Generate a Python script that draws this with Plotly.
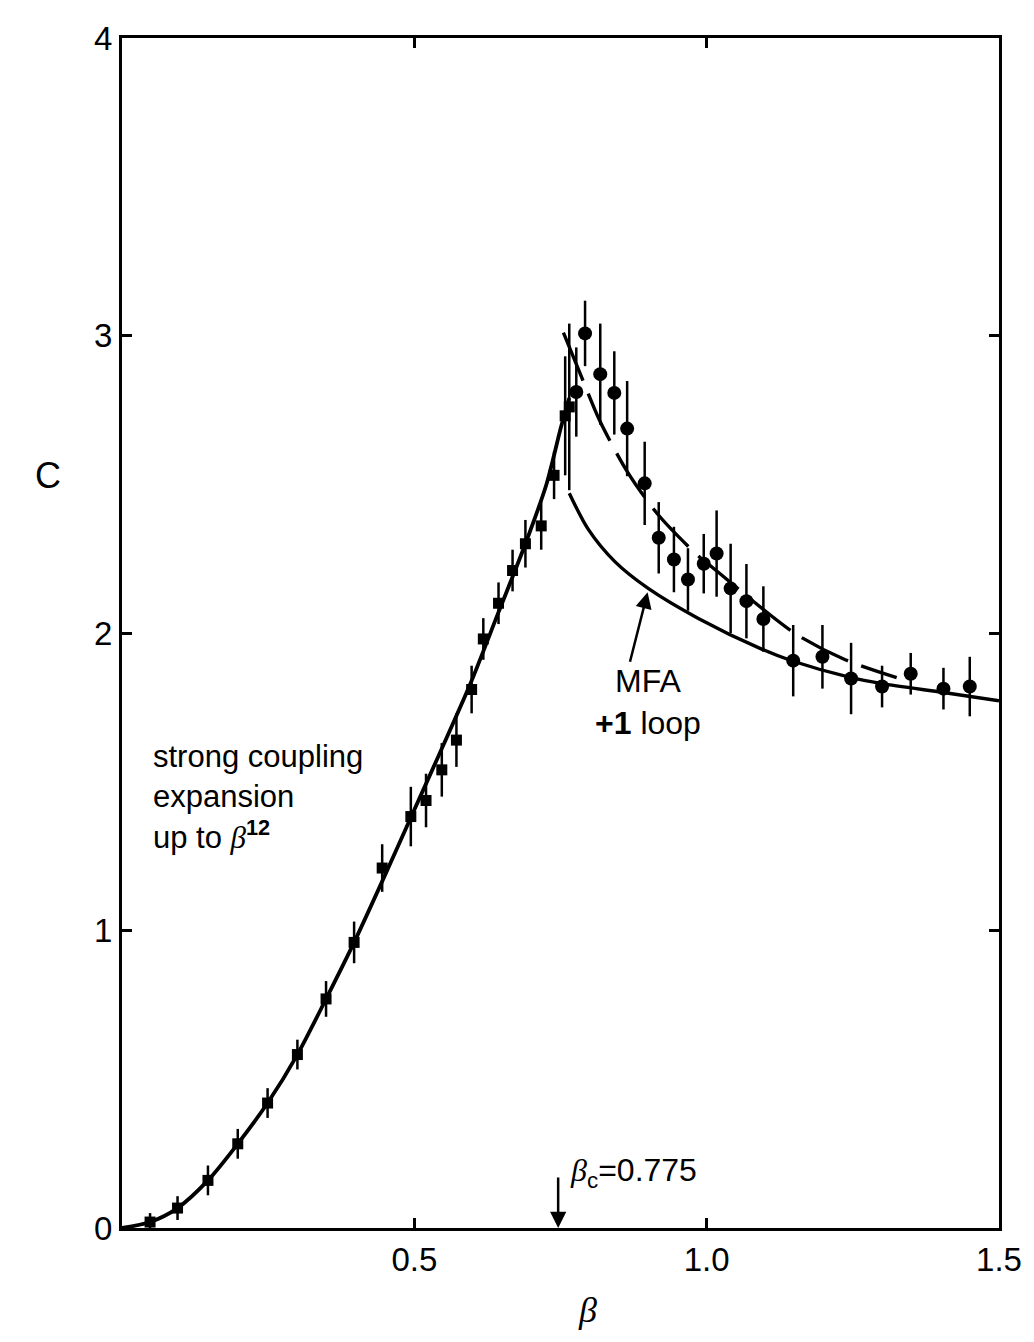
import plotly.graph_objects as go

# ---- data ----
# strong coupling expansion curve (solid)
sc_x = [0.0, 0.048, 0.095, 0.147, 0.198, 0.249, 0.300, 0.349, 0.397, 0.445, 0.494, 0.541, 0.596, 0.644, 0.690, 0.726, 0.751, 0.765]
sc_y = [0.0, 0.02, 0.067, 0.16, 0.283, 0.42, 0.583, 0.77, 0.96, 1.165, 1.38, 1.585, 1.83, 2.07, 2.30, 2.50, 2.693, 2.79]

# Monte Carlo points below beta_c (squares)
sq_x = [0.048, 0.095, 0.147, 0.198, 0.249, 0.300, 0.349, 0.397, 0.445, 0.494, 0.520, 0.547, 0.572, 0.598, 0.618, 0.644, 0.668, 0.690, 0.717, 0.739, 0.758, 0.765]
sq_y = [0.02, 0.067, 0.16, 0.283, 0.42, 0.583, 0.77, 0.96, 1.21, 1.383, 1.437, 1.54, 1.64, 1.81, 1.98, 2.10, 2.21, 2.30, 2.36, 2.53, 2.73, 2.76]
sq_err = [0.03, 0.04, 0.05, 0.05, 0.05, 0.05, 0.06, 0.07, 0.08, 0.10, 0.09, 0.09, 0.09, 0.08, 0.07, 0.07, 0.07, 0.08, 0.08, 0.08, 0.20, 0.28]

# Monte Carlo points above beta_c (circles)
ci_x = [0.777, 0.792, 0.818, 0.842, 0.864, 0.894, 0.918, 0.944, 0.968, 0.995, 1.017, 1.041, 1.068, 1.097, 1.148, 1.198, 1.247, 1.300, 1.349, 1.405, 1.450]
ci_y = [2.81, 3.007, 2.87, 2.807, 2.687, 2.503, 2.32, 2.247, 2.18, 2.233, 2.267, 2.15, 2.107, 2.047, 1.907, 1.92, 1.847, 1.82, 1.863, 1.813, 1.82]
ci_err = [0.15, 0.11, 0.17, 0.14, 0.16, 0.14, 0.12, 0.11, 0.105, 0.10, 0.145, 0.15, 0.125, 0.11, 0.12, 0.107, 0.12, 0.07, 0.07, 0.07, 0.10]

# MFA + 1 loop (solid)
mfa_x = [0.765, 0.797, 0.843, 0.900, 0.985, 1.095, 1.148, 1.247, 1.300, 1.405, 1.500]
mfa_y = [2.47, 2.35, 2.24, 2.15, 2.05, 1.945, 1.905, 1.85, 1.83, 1.80, 1.772]

# dashed curve
d_x = [0.755, 0.784, 0.818, 0.865, 0.916, 0.985, 1.010, 1.150, 1.237, 1.325]
d_y = [3.01, 2.87, 2.71, 2.54, 2.40, 2.26, 2.22, 2.00, 1.91, 1.85]

x_ticks = [0.5, 1.0, 1.5]
x_ticktext = ["0.5", "1.0", "1.5"]
y_ticks = [0, 1, 2, 3, 4]
y_ticktext = ["0", "1", "2", "3", "4"]

SANS = "Liberation Sans, Arial, Helvetica, sans-serif"
SERIF = "Liberation Serif, Times New Roman, serif"

fig = go.Figure()

fig.add_trace(go.Scatter(x=sc_x, y=sc_y, mode="lines",
                         line=dict(color="black", width=3.8, shape="spline", smoothing=0.8),
                         hoverinfo="skip"))
fig.add_trace(go.Scatter(x=mfa_x, y=mfa_y, mode="lines",
                         line=dict(color="black", width=3.4, shape="spline", smoothing=0.8),
                         hoverinfo="skip"))
fig.add_trace(go.Scatter(x=d_x, y=d_y, mode="lines",
                         line=dict(color="black", width=3.4, shape="spline", smoothing=0.8,
                                   dash="52px,14px"),
                         hoverinfo="skip"))
fig.add_trace(go.Scatter(x=sq_x, y=sq_y, mode="markers",
                         marker=dict(symbol="square", size=11, color="black"),
                         error_y=dict(type="data", array=sq_err, visible=True,
                                      color="black", thickness=2.5, width=0)))
fig.add_trace(go.Scatter(x=ci_x, y=ci_y, mode="markers",
                         marker=dict(symbol="circle", size=14, color="black"),
                         error_y=dict(type="data", array=ci_err, visible=True,
                                      color="black", thickness=2.5, width=0)))

annotations = [
    # strong coupling text
    dict(x=0.050, y=1.45, xref="x", yref="y", xanchor="left", yanchor="middle",
         align="left", showarrow=False,
         text=("strong coupling<br>expansion<br>up to "
               "<span style='font-family:Liberation Serif'><i>β</i></span><sup><b>12</b></sup>"),
         font=dict(family=SANS, size=31, color="black")),
    # MFA text
    dict(x=0.899, y=1.767, xref="x", yref="y", xanchor="center", yanchor="middle",
         align="center", showarrow=False,
         text="MFA<br><b>+1</b> loop",
         font=dict(family=SANS, size=32, color="black")),
    # MFA arrow
    dict(x=0.899, y=2.137, xref="x", yref="y", ax=-18, ay=71, text="",
         showarrow=True, arrowhead=2, arrowsize=1.3, arrowwidth=2.5, arrowcolor="black"),
    # beta_c arrow
    dict(x=0.746, y=0.0, xref="x", yref="y", ax=0, ay=-52, text="",
         showarrow=True, arrowhead=2, arrowsize=1.3, arrowwidth=2.5, arrowcolor="black"),
    # beta_c label
    dict(x=0.763, y=0.185, xref="x", yref="y", xanchor="left", yanchor="middle",
         showarrow=False,
         text="<span style='font-family:Liberation Serif'><i>β</i></span><sub>c</sub>=0.775",
         font=dict(family=SANS, size=32, color="black")),
    # axis titles
    dict(x=-0.084, y=2.53 / 4, xref="paper", yref="paper", xanchor="center", yanchor="middle",
         showarrow=False, text="C", font=dict(family=SANS, size=36, color="black")),
    dict(x=0.797 / 1.5, y=-0.087, xref="paper", yref="paper", xanchor="center", yanchor="bottom",
         showarrow=False, text="<i>β</i>", font=dict(family=SERIF, size=36, color="black")),
]

# the page body has an 8px margin: size the figure so the plot lands where the reference has it
fig.update_layout(
    width=1026, height=1326,
    margin=dict(l=114, r=31, t=20, b=106),
    paper_bgcolor="white", plot_bgcolor="white",
    showlegend=False,
    annotations=annotations,
    font=dict(family=SANS, color="black"),
)
fig.update_xaxes(range=[0, 1.5], tickvals=x_ticks, ticktext=x_ticktext,
                 ticks="inside", ticklen=10, tickwidth=2.5, tickcolor="black",
                 showline=True, linewidth=3, linecolor="black", mirror="ticks",
                 showgrid=False, zeroline=False,
                 tickfont=dict(family=SANS, size=33, color="black"))
fig.update_yaxes(range=[0, 4], tickvals=y_ticks, ticktext=y_ticktext,
                 ticks="inside", ticklen=10, tickwidth=2.5, tickcolor="black",
                 showline=True, linewidth=3, linecolor="black", mirror="ticks",
                 showgrid=False, zeroline=False,
                 tickfont=dict(family=SANS, size=33, color="black"))

fig.write_html("out.html")
